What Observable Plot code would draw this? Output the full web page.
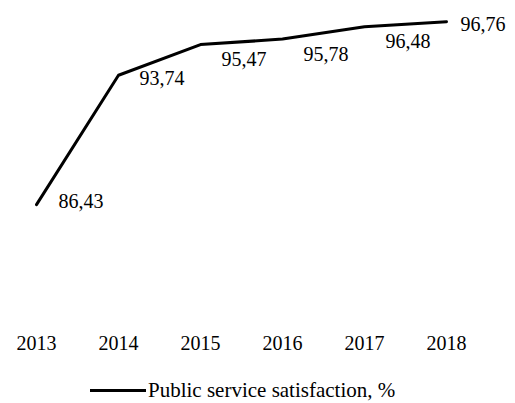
<!DOCTYPE html>
<html>
<head>
<meta charset="utf-8">
<script src="https://cdn.jsdelivr.net/npm/d3@7"></script>
<script src="https://cdn.jsdelivr.net/npm/@observablehq/plot@0.6"></script>
<style>
  html, body { margin: 0; padding: 0; background: #fff; }
  #wrap { position: relative; width: 515px; height: 403px; font-family: "Liberation Serif", "DejaVu Serif", serif; }
  #chart svg, #chart svg text { font-family: "Liberation Serif", "DejaVu Serif", serif !important; }
  #legend { position: absolute; left: 90px; top: 378px; display: flex; align-items: center; font-size: 21px; color: #000; }
  #legend .sw { width: 56px; height: 3px; background: #000; margin-right: 2px; }
</style>
</head>
<body>
<div id="wrap">
  <div id="chart"></div>
  <div id="legend"><span class="sw"></span><span>Public service satisfaction, %</span></div>
</div>
<script>
const years = ["2013", "2014", "2015", "2016", "2017", "2018"];
const values = [86.43, 93.74, 95.47, 95.78, 96.48, 96.76];
const labels = ["86,43", "93,74", "95,47", "95,78", "96,48", "96,76"];
const seriesName = "Public service satisfaction, %";

const data = years.map((y, i) => ({year: y, value: values[i], label: labels[i], i}));
const n = data.length;
const font = '"Liberation Serif", "DejaVu Serif", serif';

const chart = Plot.plot({
  width: 515,
  height: 370,
  marginLeft: 35,
  marginRight: 69,
  marginTop: 17,
  marginBottom: 52,
  style: {fontFamily: font, fontSize: "20px", color: "#000", background: "#fff"},
  x: {type: "point", domain: years, padding: 0, label: null},
  y: {domain: [80, 97], axis: null},
  marks: [
    Plot.axisX({tickSize: 0, tickPadding: 17, fontSize: 20, fill: "#000", label: null}),
    Plot.line(data, {x: "year", y: "value", stroke: "#000", strokeWidth: 3}),
    Plot.text(data, {filter: d => d.i === 0, x: "year", y: "value", text: "label", textAnchor: "start", dx: 22, dy: -3, fontSize: 20, fill: "#000"}),
    Plot.text(data, {filter: d => d.i === 1, x: "year", y: "value", text: "label", textAnchor: "start", dx: 21, dy: 3, fontSize: 20, fill: "#000"}),
    Plot.text(data, {filter: d => d.i > 1 && d.i < n - 1, x: "year", y: "value", text: "label", textAnchor: "start", dx: 21, dy: 15, fontSize: 20, fill: "#000"}),
    Plot.text(data, {filter: d => d.i === n - 1, x: "year", y: "value", text: "label", textAnchor: "start", dx: 14, dy: 3, fontSize: 20, fill: "#000"})
  ]
});
document.getElementById("chart").appendChild(chart);
</script>
</body>
</html>
